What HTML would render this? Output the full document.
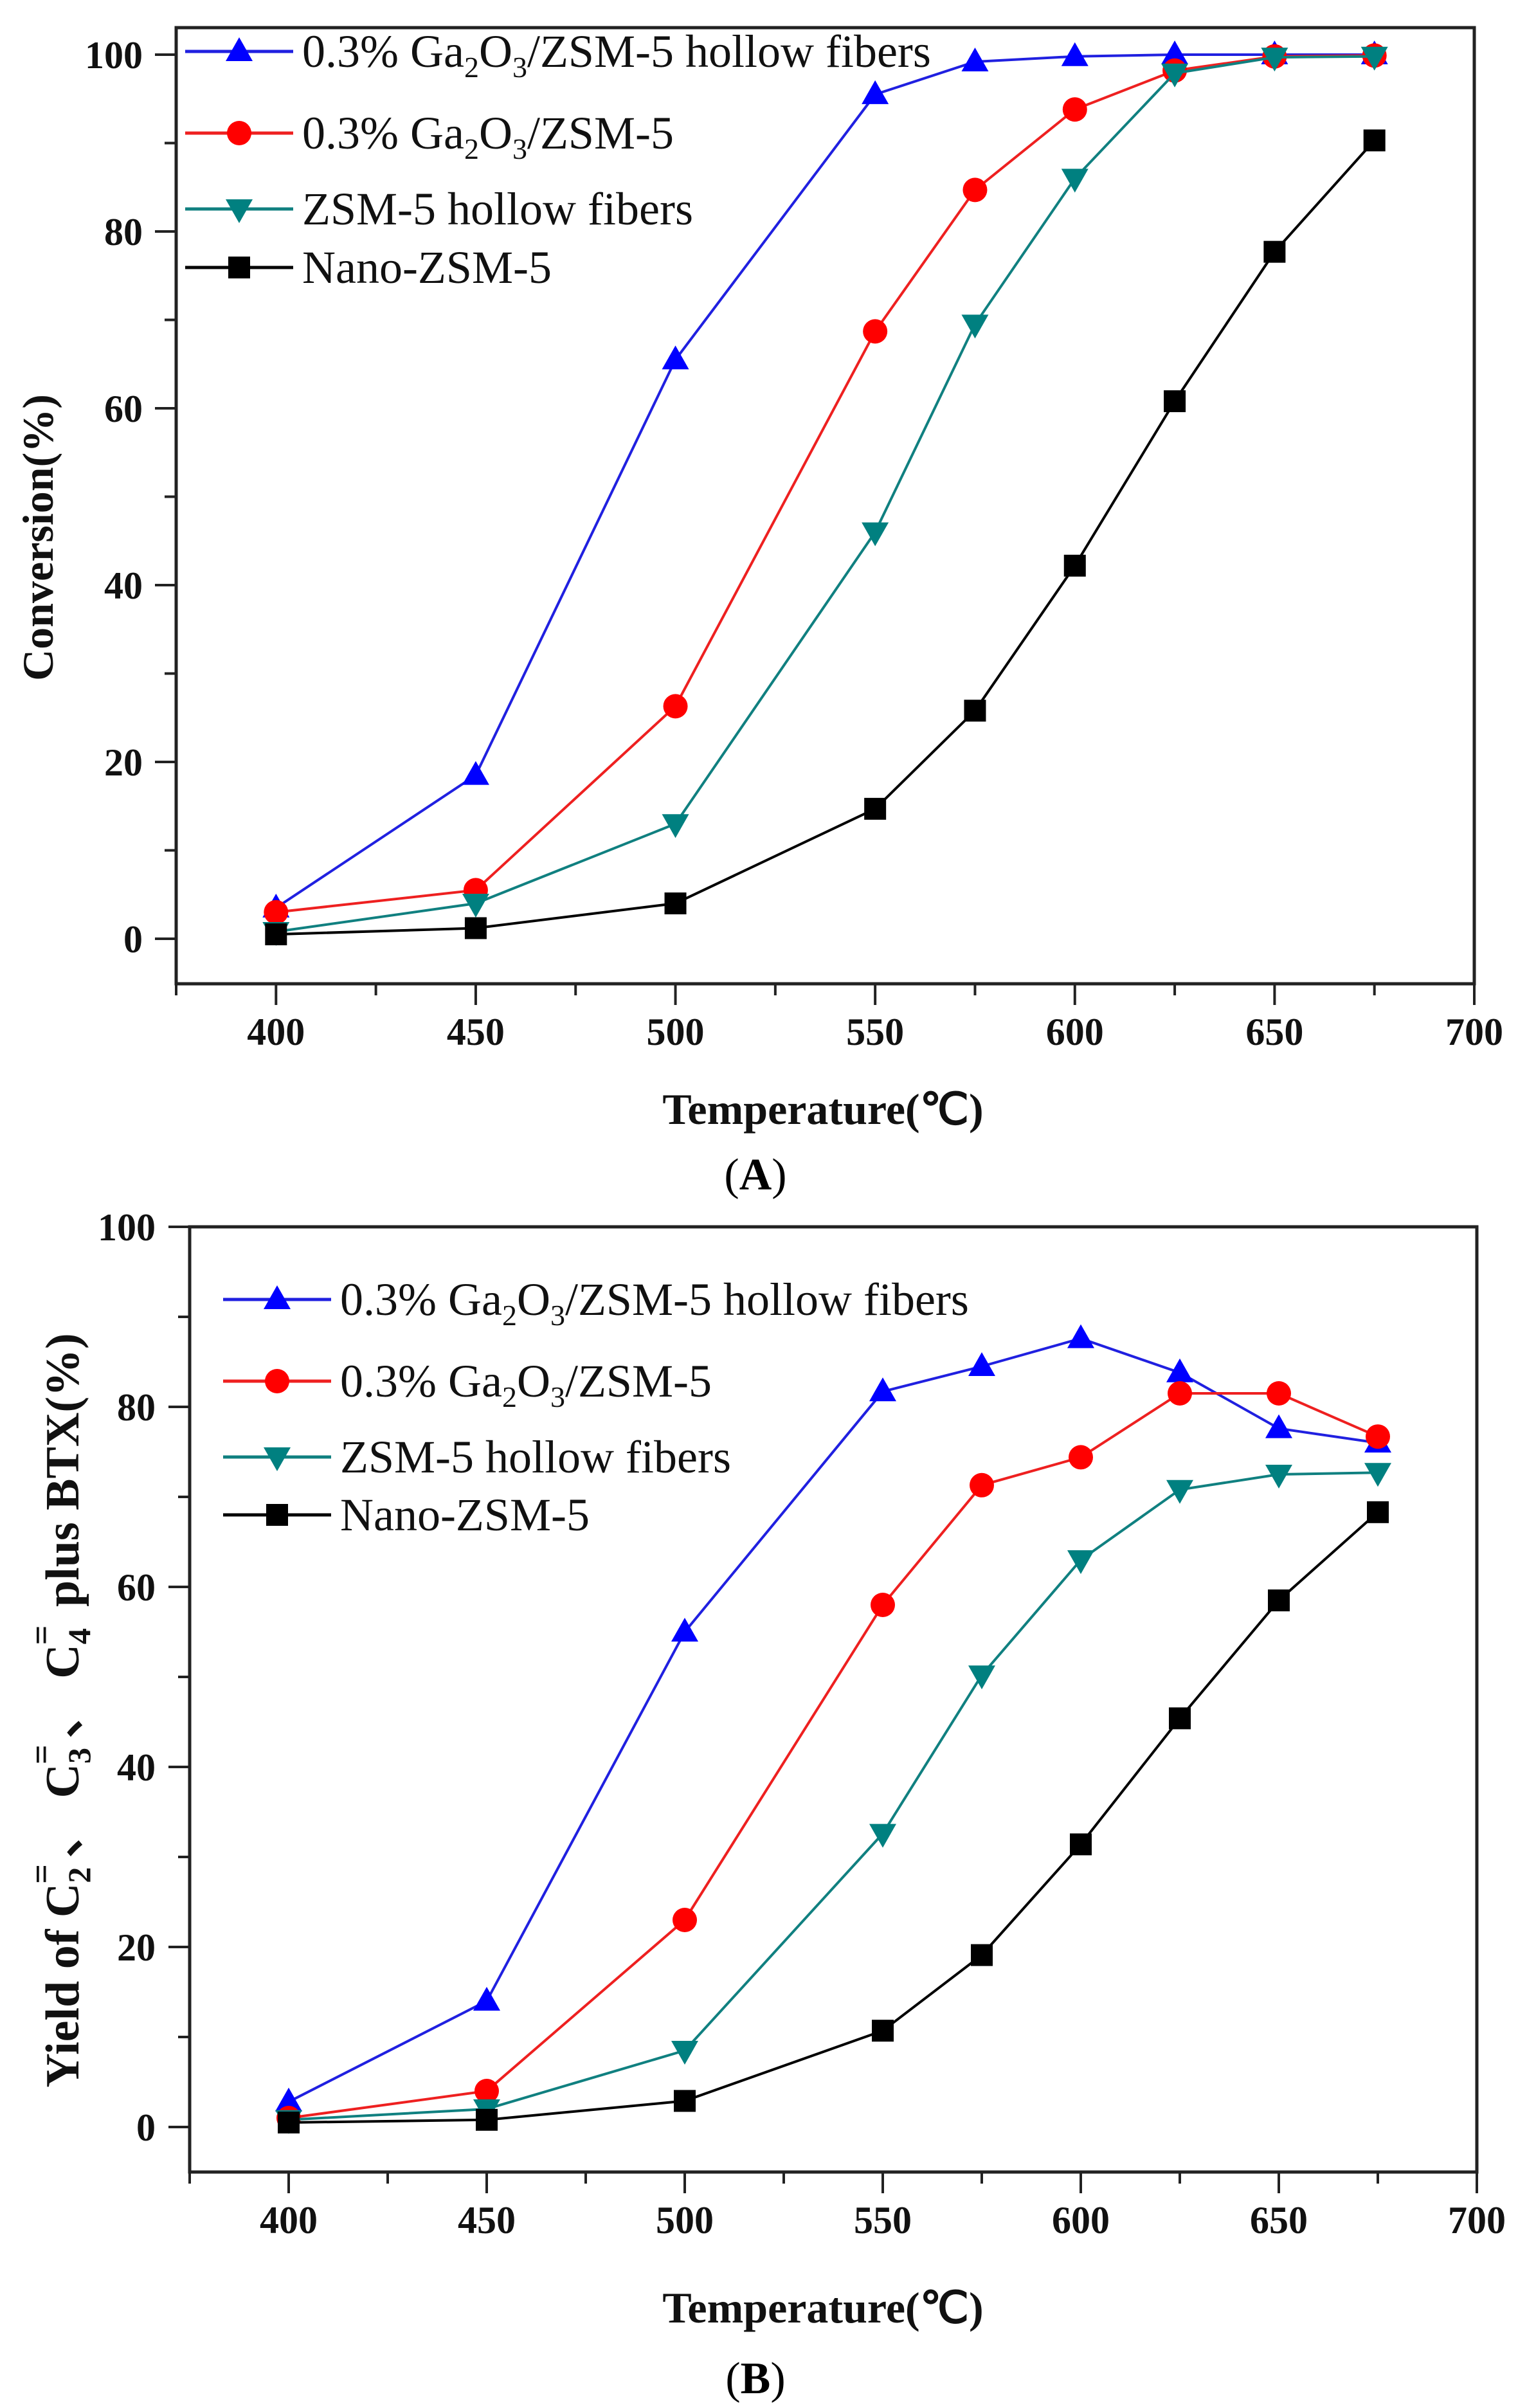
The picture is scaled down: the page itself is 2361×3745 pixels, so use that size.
<!DOCTYPE html>
<html><head><meta charset="utf-8"><style>html,body{margin:0;padding:0;background:#fff}svg{display:block}</style></head>
<body>
<svg id="fig" width="2361" height="3745" viewBox="0 0 2361 3745" xmlns="http://www.w3.org/2000/svg" font-family="'Liberation Serif', serif"></svg>
<script>
const temps = [400,450,500,550,575,600,625,650,675];
const xTicks = [400,450,500,550,600,650,700];
const yTicks = [0,20,40,60,80,100];
const convGaFiber = [3.5,18.5,65.5,95.5,99.2,99.8,100,100,100];
const convGa = [3,5.5,26.3,68.7,84.7,93.8,98.2,99.8,99.9];
const convFiber = [0.8,4,13,46,69.5,86,97.9,99.7,99.8];
const convNano = [0.5,1.2,4,14.7,25.8,42.2,60.8,77.7,90.3];
const yieldGaFiber = [2.8,14,55,81.7,84.5,87.6,83.8,77.6,76];
const yieldGa = [1,4,23,58,71.3,74.4,81.5,81.5,76.7];
const yieldFiber = [0.8,2,8.5,32.6,50.2,63,70.8,72.5,72.7];
const yieldNano = [0.5,0.8,2.9,10.7,19.1,31.4,45.4,58.5,68.3];

const NS='http://www.w3.org/2000/svg';
const svg=document.getElementById('fig');
function mk(tag,attrs,parent){const e=document.createElementNS(NS,tag);for(const k in attrs)e.setAttribute(k,attrs[k]);(parent||svg).appendChild(e);return e;}

const seriesStyle=[
 {color:'#0000ff',line:'#2020e0',marker:'tri'},
 {color:'#ff0000',line:'#ee2020',marker:'circ'},
 {color:'#008080',line:'#108080',marker:'itri'},
 {color:'#000000',line:'#000000',marker:'sq'}];

function marker(g,type,cx,cy,color){
  let e;
  if(type==='tri') e=mk('polygon',{points:`${cx},${cy-22} ${cx+21},${cy+15} ${cx-21},${cy+15}`,fill:color},g);
  else if(type==='itri') e=mk('polygon',{points:`${cx},${cy+22} ${cx+21},${cy-15} ${cx-21},${cy-15}`,fill:color},g);
  else if(type==='circ') e=mk('circle',{cx:cx,cy:cy,r:19,fill:color},g);
  else e=mk('rect',{x:cx-17,y:cy-17,width:34,height:34,fill:color},g);
  
  
}

function legendText(g,x,y,kind){
  const t=mk('text',{x:x,y:y+24,'font-size':72,fill:'#111'},g);
  
  
  if(kind===0||kind===1){
    t.appendChild(document.createTextNode('0.3% Ga'));
    mk('tspan',{'font-size':46,dy:16},t).textContent='2';
    mk('tspan',{dy:-16},t).textContent='O';
    mk('tspan',{'font-size':46,dy:16},t).textContent='3';
    mk('tspan',{dy:-16},t).textContent=kind===0?'/ZSM-5 hollow fibers':'/ZSM-5';
  } else t.textContent=kind===2?'ZSM-5 hollow fibers':'Nano-ZSM-5';
}

function chart(o){
  const g=mk('g',{});
  
  
  const X=v=>o.x0+(v-375)*(o.x1-o.x0)/325;
  const Y=v=>o.yZero-(v)*(o.yZero-o.yHundred)/100;
  const fr=mk('rect',{x:o.x0,y:o.top,width:o.x1-o.x0,height:o.bottom-o.top,fill:'none',stroke:'#222','stroke-width':5},g);
  
  
  for(let v=375;v<=700;v+=25){
    const major=(v%50===0);
    mk('line',{x1:X(v),x2:X(v),y1:o.bottom,y2:o.bottom+(major?33:18),stroke:'#222','stroke-width':4},g);
  }
  xTicks.forEach(v=>{
    const t=mk('text',{x:X(v),y:o.bottom+95,'font-size':60,'font-weight':'bold','text-anchor':'middle',fill:'#111'},g);
    
    
    t.textContent=v;
  });
  for(let v=0;v<=100;v+=10){
    const major=(v%20===0);
    mk('line',{x1:o.x0,x2:o.x0-(major?33:18),y1:Y(v),y2:Y(v),stroke:'#222','stroke-width':4},g);
  }
  yTicks.forEach(v=>{
    const t=mk('text',{x:o.yLabX,y:Y(v)+21,'font-size':60,'font-weight':'bold','text-anchor':'end',fill:'#111'},g);
    
    
    t.textContent=v;
  });
  o.series.forEach((arr,i)=>{
    const s=seriesStyle[i];
    const sg=mk('g',{},g);
    
    
    const pl=mk('polyline',{points:arr.map((v,j)=>X(temps[j])+','+Y(v)).join(' '),fill:'none',stroke:s.line,'stroke-width':4},sg);
    
    
    arr.forEach((v,j)=>marker(sg,s.marker,X(temps[j]),Y(v),s.color));
  });
  o.legY.forEach((ly,i)=>{
    const s=seriesStyle[i];
    const lg=mk('g',{},g);
    
    
    mk('line',{x1:o.legX,x2:o.legX+168,y1:ly,y2:ly,stroke:s.line,'stroke-width':5},lg);
    marker(lg,s.marker,o.legX+84,ly,s.color);
    legendText(lg,o.legX+182,ly,i);
  });
  const xt=mk('text',{x:1280,y:o.xTitleY,'font-size':68,'font-weight':'bold','text-anchor':'middle',fill:'#111'},g);
  
  
  xt.textContent='Temperature(℃)';
  const cap=mk('text',{x:1175,y:o.capY,'font-size':70,'text-anchor':'middle',fill:'#000'},g);
  
  
  cap.appendChild(document.createTextNode('('));
  mk('tspan',{'font-weight':'bold'},cap).textContent=o.cap;
  cap.appendChild(document.createTextNode(')'));
  return g;
}

chart({name:'chart-a',x0:274,x1:2293,top:43,bottom:1530,yZero:1460,yHundred:85,yLabX:222,
  series:[convGaFiber,convGa,convFiber,convNano],legX:288,legY:[80,207,325,416],
  xTitleY:1748,capY:1850,cap:'A'});
const ya=mk('text',{transform:'translate(82,836) rotate(-90)','font-size':68,'font-weight':'bold','text-anchor':'middle',fill:'#111'});


ya.textContent='Conversion(%)';

chart({name:'chart-b',x0:295,x1:2297,top:1908,bottom:3378,yZero:3308,yHundred:1908,yLabX:242,
  series:[yieldGaFiber,yieldGa,yieldFiber,yieldNano],legX:347,legY:[2021,2148,2266,2356],
  xTitleY:3612,capY:3722,cap:'B'});
const yb=mk('text',{transform:'translate(122,2660) rotate(-90)','font-size':74,'font-weight':'bold','text-anchor':'middle',fill:'#111'});


yb.appendChild(document.createTextNode('Yield of C'));
[['2','、 C'],['3','、 C'],['4',' plus BTX(%)']].forEach(p=>{
  mk('tspan',{'font-size':50,dy:18},yb).textContent=p[0];
  mk('tspan',{'font-size':54,dy:-58,dx:-26},yb).textContent='=';
  mk('tspan',{dy:40,dx:10},yb).textContent=p[1];
});
</script>
</body></html>
